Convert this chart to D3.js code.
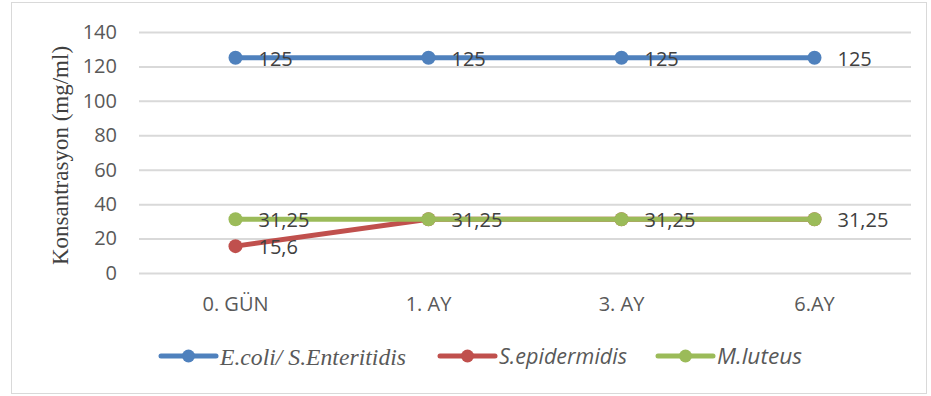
<!DOCTYPE html>
<html>
<head>
<meta charset="utf-8">
<script src="https://cdn.jsdelivr.net/npm/d3@7"></script>
<style>
  html, body { margin: 0; padding: 0; background: #fff; }
  svg { display: block; }
</style>
</head>
<body>
<svg id="chart" width="931" height="396"></svg>
<script>
// Time points and MIC values per organism
const categories = ["0. GÜN", "1. AY", "3. AY", "6.AY"];
const ecoliValues = [125, 125, 125, 125];
const sepiValues = [15.6, 31.25, 31.25, 31.25];
const mluteusValues = [31.25, 31.25, 31.25, 31.25];
const ecoliLabels = ["125", "125", "125", "125"];
const sepiLabels = ["15,6", "31,25", "31,25", "31,25"];
const mluteusLabels = ["31,25", "", "", ""];
const yTicks = [0, 20, 40, 60, 80, 100, 120, 140];
const seriesNames = ["E.coli/ S.Enteritidis", "S.epidermidis", "M.luteus"];

const serif = "'Liberation Serif', 'DejaVu Serif', serif";
const sans = "'Open Sans', 'Liberation Sans', sans-serif";

const series = [
  { name: seriesNames[0], values: ecoliValues, labels: ecoliLabels, color: "#4F81BD" },
  { name: seriesNames[1], values: sepiValues, labels: sepiLabels, color: "#C0504D" },
  { name: seriesNames[2], values: mluteusValues, labels: mluteusLabels, color: "#9BBB59" }
];

const svg = d3.select("#chart");
const plot = { left: 139, right: 911, top: 32, bottom: 273 };
const textColor = "#404040";

// chart frame
svg.append("rect")
  .attr("x", 11.5).attr("y", 2.5)
  .attr("width", 915).attr("height", 391)
  .attr("fill", "#fff").attr("stroke", "#d9d9d9").attr("stroke-width", 1);

const x = d3.scaleBand().domain(categories).range([plot.left, plot.right]);
const y = d3.scaleLinear().domain([0, 140]).range([plot.bottom, plot.top]);

// gridlines + y tick labels
const yAxis = d3.axisLeft(y).tickValues(yTicks)
  .tickSize(-(plot.right - plot.left)).tickPadding(22).tickFormat(d3.format("d"));
const gy = svg.append("g").attr("transform", `translate(${plot.left},0)`).call(yAxis);
gy.select(".domain").remove();
gy.selectAll(".tick line").attr("stroke", "#d9d9d9").attr("stroke-width", 2);
gy.selectAll(".tick text")
  .attr("fill", "#595959").attr("font-family", sans).attr("font-size", 20);

// x category labels
const xAxis = d3.axisBottom(x).tickSize(0).tickPadding(24);
const gx = svg.append("g").attr("transform", `translate(0,${plot.bottom})`).call(xAxis);
gx.select(".domain").remove();
gx.selectAll(".tick text")
  .attr("fill", "#595959").attr("font-family", sans).attr("font-size", 20)
  .attr("dy", "0.72em");

// y axis title
svg.append("text")
  .attr("transform", `translate(68,${(plot.top + plot.bottom) / 2 + 3}) rotate(-90)`)
  .attr("text-anchor", "middle")
  .attr("fill", textColor)
  .attr("font-family", serif)
  .attr("font-size", 23)
  .text("Konsantrasyon (mg/ml)");

const cx = d => x(d) + x.bandwidth() / 2;
const line = d3.line().x((d, i) => cx(categories[i])).y(d => y(d));

// lines and markers
series.forEach(s => {
  const g = svg.append("g");
  g.append("path")
    .datum(s.values)
    .attr("d", line)
    .attr("fill", "none")
    .attr("stroke", s.color)
    .attr("stroke-width", 5)
    .attr("stroke-linecap", "round");
  g.selectAll("circle")
    .data(s.values)
    .join("circle")
    .attr("cx", (d, i) => cx(categories[i]))
    .attr("cy", d => y(d))
    .attr("r", 7)
    .attr("fill", s.color);
});

// data labels
series.forEach(s => {
  svg.append("g").selectAll("text")
    .data(s.values)
    .join("text")
    .attr("x", (d, i) => cx(categories[i]) + 23)
    .attr("y", d => y(d))
    .attr("dy", "0.4em")
    .attr("fill", textColor)
    .attr("font-family", sans)
    .attr("font-size", 20)
    .text((d, i) => s.labels[i]);
});

// legend
const legendItems = [
  { x: 161, font: serif, size: 23, len: 186 },
  { x: 440, font: sans, size: 21, len: 128 },
  { x: 658, font: sans, size: 21, len: 85 }
];
const legendY = 356;
series.forEach((s, i) => {
  const it = legendItems[i];
  const g = svg.append("g").attr("transform", `translate(${it.x},${legendY})`);
  g.append("line")
    .attr("x1", 0).attr("x2", 55).attr("y1", 0).attr("y2", 0)
    .attr("stroke", s.color).attr("stroke-width", 5).attr("stroke-linecap", "round");
  g.append("circle").attr("cx", 27.5).attr("cy", 0).attr("r", 6.5).attr("fill", s.color);
  g.append("text")
    .attr("x", 59).attr("y", 1).attr("dy", "0.35em")
    .attr("fill", "#595959")
    .attr("font-family", it.font)
    .attr("font-style", "italic")
    .attr("font-size", it.size)
    .attr("textLength", it.len)
    .attr("lengthAdjust", "spacingAndGlyphs")
    .text(s.name);
});
</script>
</body>
</html>
